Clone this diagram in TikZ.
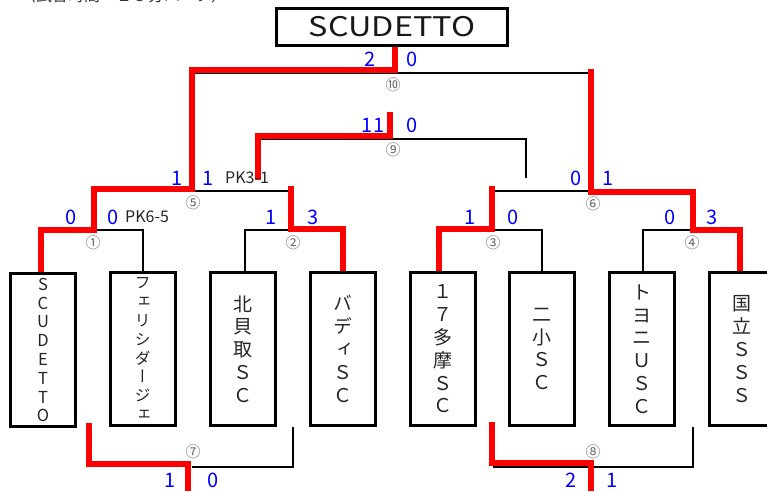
\documentclass[tikz,border=0pt]{standalone}
\usepackage{fontspec}
\setmainfont{Noto Sans CJK JP}
\newfontfamily\jp{Noto Sans CJK JP}
\newfontfamily\jpv[RawFeature=+vert]{Noto Sans CJK JP}
\begin{document}
\begin{tikzpicture}[x=1pt,y=-1pt,
  team/.style={draw, line width=3pt, fill=white, minimum width=65pt, minimum height=153pt, inner sep=0pt, align=center, text=black!85, font=\jp\fontsize{19}{22.8}\selectfont},
  win/.style={draw=red, line width=6pt, line join=miter},
  br/.style={draw=black, line width=2pt},
  sc/.style={blue, inner sep=0pt, font=\jp\fontsize{20}{20}\selectfont},
  mn/.style={black!60, inner sep=0pt, font=\jp\fontsize{15}{15}\selectfont},
  pk/.style={black!85, inner sep=0pt, anchor=west, font=\jp\fontsize{16}{16}\selectfont}]
\useasboundingbox (0,0) rectangle (767,491);
% cut-off heading
\node[anchor=base west, inner sep=0pt, text=black!80, font=\jp\fontsize{16}{16}\selectfont] (head) at (20,1.5) {（試合時間　１５分ハーフ）};
% black bracket lines
\draw[br] (192,73) -- (590,73);
\draw[br] (258,139) -- (526,139) -- (526,178);
\draw[br] (192,191) -- (290,191);
\draw[br] (492,191) -- (591,191);
\draw[br] (94,230) -- (143,230) -- (143,272);
\draw[br] (245,272) -- (245,230) -- (291,230);
\draw[br] (492,230) -- (542,230) -- (542,272);
\draw[br] (643,272) -- (643,230) -- (693,230);
\draw[br] (192,467) -- (293,467) -- (293,427);
\draw[br] (493,467) -- (693,467) -- (693,427);
% red winner lines
\draw[win] (395,47) -- (395,70) -- (192,70) -- (192,189) -- (94,189) -- (94,230) -- (41,230) -- (41,272);
\draw[win] (390,112) -- (390,136) -- (258,136) -- (258,180);
\draw[win] (291,186) -- (291,229) -- (343,229) -- (343,272);
\draw[win] (591,69) -- (591,192) -- (693,192) -- (693,230) -- (740,230) -- (740,272);
\draw[win] (492,186) -- (492,229) -- (439,229) -- (439,272);
\draw[win] (89,423) -- (89,464) -- (188,464) -- (188,491);
\draw[win] (492,422) -- (492,463) -- (591,463) -- (591,491);
% title box
\node[draw, line width=3pt, fill=white, minimum width=231pt, minimum height=37pt, inner sep=0pt, text=black!90, font=\jp\fontsize{27}{27}\selectfont] (champ) at (392,27) {\scalebox{1.2}[1]{SCUDETTO}};
% team boxes
\node[team, font=\jp\fontsize{16.5}{18.8}\selectfont] (t1) at (43,350) {S\\C\\U\\D\\E\\T\\T\\O};
\node[team, font=\jpv\fontsize{16}{18.9}\selectfont] (t2) at (142.5,349) {フ\\ェ\\リ\\シ\\ダ\\ー\\ジ\\ェ};
\node[team] (t3) at (242.5,349) {北\\貝\\取\\Ｓ\\Ｃ};
\node[team, font=\jpv\fontsize{19}{22.8}\selectfont] (t4) at (342.5,349) {バ\\デ\\ィ\\Ｓ\\Ｃ};
\node[team] (t5) at (442.5,349) {１\\７\\多\\摩\\Ｓ\\Ｃ};
\node[team] (t6) at (541.5,349) {二\\小\\Ｓ\\Ｃ};
\node[team] (t7) at (642,349) {ト\\ヨ\\ニ\\Ｕ\\Ｓ\\Ｃ};
\node[team] (t8) at (741.5,349) {国\\立\\Ｓ\\Ｓ\\Ｓ};
% scores and match numbers
\node[sc] (s10a) at (370,59) {2}; \node[sc] (s10b) at (412,59) {0}; \node[mn] (m10) at (393,85) {⑩};
\node[sc] (s9a) at (373,125) {11}; \node[sc] (s9b) at (412,125) {0}; \node[mn] (m9) at (393,150) {⑨};
\node[sc] (s5a) at (177,178) {1}; \node[sc] (s5b) at (208,178) {1}; \node[pk] (pk5) at (225,178) {PK3-1}; \node[mn] (m5) at (193,203) {⑤};
\node[sc] (s6a) at (576,178) {0}; \node[sc] (s6b) at (608,178) {1}; \node[mn] (m6) at (593,204) {⑥};
\node[sc] (s1a) at (71,217) {0}; \node[sc] (s1b) at (113,217) {0}; \node[pk] (pk1) at (125,217) {PK6-5}; \node[mn] (m1) at (93,243) {①};
\node[sc] (s2a) at (271,217) {1}; \node[sc] (s2b) at (313,217) {3}; \node[mn] (m2) at (293,243) {②};
\node[sc] (s3a) at (470,217) {1}; \node[sc] (s3b) at (513,217) {0}; \node[mn] (m3) at (493,243) {③};
\node[sc] (s4a) at (670,217) {0}; \node[sc] (s4b) at (712,217) {3}; \node[mn] (m4) at (692,243) {④};
\node[sc] (s7a) at (170,480) {1}; \node[sc] (s7b) at (213,480) {0}; \node[mn] (m7) at (193,452) {⑦};
\node[sc] (s8a) at (571,480) {2}; \node[sc] (s8b) at (612,480) {1}; \node[mn] (m8) at (593,452) {⑧};
\end{tikzpicture}
\end{document}
